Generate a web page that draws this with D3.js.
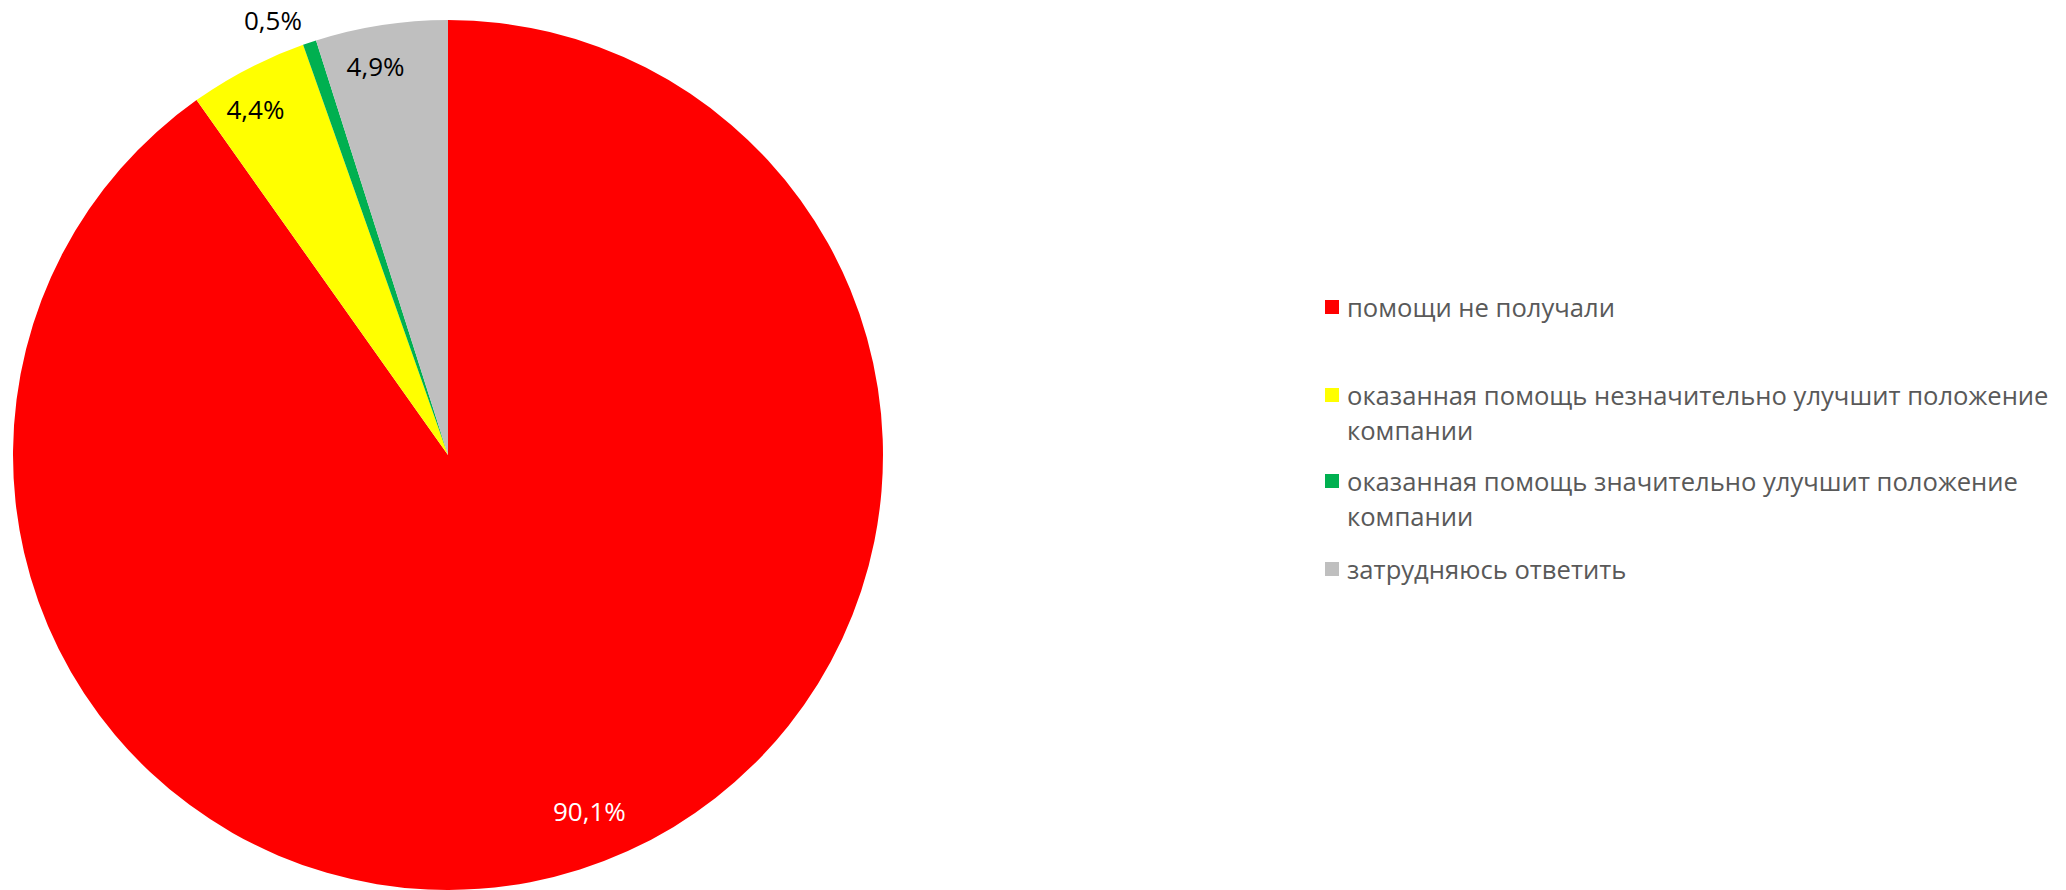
<!DOCTYPE html>
<html><head><meta charset="utf-8">
<script src="https://cdn.jsdelivr.net/npm/d3@7"></script>
<style>html,body{margin:0;padding:0;background:#fff;}svg{display:block;}</style>
</head><body>
<svg id="chart" width="2066" height="890"></svg>
<script>
const categories = [
  "помощи не получали",
  "оказанная помощь незначительно улучшит положение компании",
  "оказанная помощь значительно улучшит положение компании",
  "затрудняюсь ответить"
];
const values = [90.1, 4.4, 0.5, 4.9];
const valueLabels = ["90,1%", "4,4%", "0,5%", "4,9%"];
const colors = ["#FF0000", "#FFFF00", "#00B050", "#BFBFBF"];

const svg = d3.select("#chart");
const cx = 448, cy = 455, R = 435;
const font = "'Open Sans', 'Noto Sans', sans-serif";

const data = categories.map((c, i) => ({cat: c, value: values[i], label: valueLabels[i], color: colors[i]}));
const pie = d3.pie().sort(null).value(d => d.value);
const arcs = pie(data);
const arc = d3.arc().innerRadius(0).outerRadius(R);

const g = svg.append("g").attr("transform", `translate(${cx},${cy})`);
g.selectAll("path").data(arcs).enter().append("path")
  .attr("d", arc).attr("fill", d => d.data.color);

const share = d => (d.endAngle - d.startAngle) / (2 * Math.PI);
g.selectAll("text.lbl").data(arcs).enter().append("text")
  .attr("class", "lbl")
  .attr("transform", d => {
    const a = (d.startAngle + d.endAngle) / 2;
    const s = share(d);
    const r = s < 0.02 ? R * 1.055 : (s > 0.5 ? R * 0.88 : R * 0.91);
    const da = s > 0.5 ? -0.07 : (s < 0.02 ? 0 : -0.03);
    return `translate(${Math.sin(a + da) * r},${-Math.cos(a + da) * r})`;
  })
  .attr("text-anchor", d => share(d) < 0.02 ? "end" : "middle")
  .attr("dominant-baseline", "central")
  .attr("font-family", font)
  .attr("font-size", 26)
  .attr("fill", d => share(d) > 0.5 ? "#fff" : "#000")
  .text(d => d.data.label);

// legend
const legX = 1325, textX = 1347, maxW = 2060 - textX;
const rowY = [307, 395, 481, 569];
const lineH = 35;
const legend = svg.append("g");
data.forEach((d, i) => {
  legend.append("rect").attr("x", legX).attr("y", rowY[i] - 7).attr("width", 14).attr("height", 14)
    .attr("fill", d.color);
  const t = legend.append("text").attr("x", textX).attr("y", rowY[i])
    .attr("dominant-baseline", "central")
    .attr("font-family", font).attr("font-size", 25.6).attr("fill", "#595959");
  const words = d.cat.split(" ");
  let line = [], ts = t.append("tspan").attr("x", textX);
  words.forEach(w => {
    line.push(w);
    ts.text(line.join(" "));
    if (ts.node().getComputedTextLength() > maxW && line.length > 1) {
      line.pop(); ts.text(line.join(" "));
      line = [w];
      ts = t.append("tspan").attr("x", textX).attr("dy", lineH).text(w);
    }
  });
});
</script>
</body></html>
